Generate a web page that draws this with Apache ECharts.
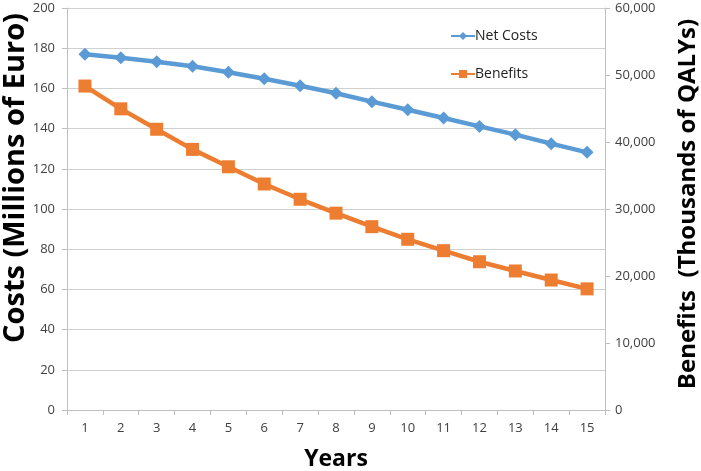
<!DOCTYPE html>
<html>
<head>
<meta charset="utf-8">
<script src="https://cdn.jsdelivr.net/npm/echarts@6/dist/echarts.min.js"></script>
<style>
  html, body { margin: 0; padding: 0; background: #fff; }
  #main { width: 701px; height: 471px; }
</style>
</head>
<body>
<div id="main"></div>
<script>
var years = ['1', '2', '3', '4', '5', '6', '7', '8', '9', '10', '11', '12', '13', '14', '15'];
var netCosts = [177, 175.3, 173.3, 171, 168, 164.8, 161.3, 157.6, 153.4, 149.4, 145.3, 141.1, 137, 132.5, 128.2];
var benefits = [48350, 44950, 41900, 38900, 36300, 33730, 31450, 29380, 27360, 25480, 23780, 22130, 20750, 19400, 18080];

var chartDom = document.getElementById('main');
var myChart = echarts.init(chartDom);
var option;

var FONT = '"Open Sans", "Liberation Sans", sans-serif';
var labelColor = '#404040';

option = {
  animation: false,
  textStyle: { fontFamily: FONT },
  grid: {
    left: 67,
    right: 96,
    top: 8,
    bottom: 61
  },
  legend: {
    orient: 'vertical',
    left: 445,
    top: 24,
    itemWidth: 24,
    itemHeight: 10,
    itemGap: 24,
    textStyle: { fontSize: 14, color: '#222', fontFamily: FONT, padding: [0, 0, 0, -5] },
    data: ['Net Costs', 'Benefits']
  },
  xAxis: {
    type: 'category',
    data: years,
    boundaryGap: true,
    axisLine: { lineStyle: { color: '#bfbfbf' } },
    axisTick: { show: true, length: 5, lineStyle: { color: '#bfbfbf' } },
    axisLabel: { fontSize: 13, color: labelColor, margin: 12 }
  },
  yAxis: [
    {
      type: 'value',
      min: 0,
      max: 200,
      interval: 20,
      axisLine: { show: true, lineStyle: { color: '#bfbfbf' } },
      axisTick: { show: true, length: 5, lineStyle: { color: '#bfbfbf' } },
      axisLabel: { fontSize: 13, color: labelColor, margin: 12 },
      splitLine: { lineStyle: { color: '#d0d0d0' } }
    },
    {
      type: 'value',
      min: 0,
      max: 60000,
      interval: 10000,
      position: 'right',
      axisLine: { show: true, lineStyle: { color: '#bfbfbf' } },
      axisTick: { show: true, length: 5, lineStyle: { color: '#bfbfbf' } },
      axisLabel: {
        fontSize: 13,
        color: labelColor,
        margin: 10,
        formatter: function (v) { return v.toLocaleString('en-US'); }
      },
      splitLine: { show: false }
    }
  ],
  series: [
    {
      name: 'Net Costs',
      type: 'line',
      yAxisIndex: 0,
      data: netCosts,
      symbol: 'diamond',
      symbolSize: 13,
      color: '#5b9bd5',
      lineStyle: { width: 4.5, color: '#5b9bd5' },
      itemStyle: { color: '#5b9bd5' }
    },
    {
      name: 'Benefits',
      type: 'line',
      yAxisIndex: 1,
      data: benefits,
      symbol: 'rect',
      symbolSize: 13,
      color: '#ed7d31',
      lineStyle: { width: 4.5, color: '#ed7d31' },
      itemStyle: { color: '#ed7d31' }
    }
  ],
  graphic: [
    {
      type: 'text',
      x: 16,
      y: 178,
      rotation: Math.PI / 2,
      style: {
        text: 'Costs (Millions of Euro)',
        font: 'bold 29px ' + FONT,
        fill: '#000',
        align: 'center',
        verticalAlign: 'middle'
      }
    },
    {
      type: 'text',
      x: 688,
      y: 204,
      rotation: Math.PI / 2,
      style: {
        text: 'Benefits  (Thousands of QALYs)',
        font: 'bold 24px ' + FONT,
        fill: '#000',
        align: 'center',
        verticalAlign: 'middle'
      }
    },
    {
      type: 'text',
      x: 336,
      y: 459,
      style: {
        text: 'Years',
        font: 'bold 23px ' + FONT,
        fill: '#000',
        align: 'center',
        verticalAlign: 'middle'
      }
    }
  ]
};

option && myChart.setOption(option);
</script>
</body>
</html>
